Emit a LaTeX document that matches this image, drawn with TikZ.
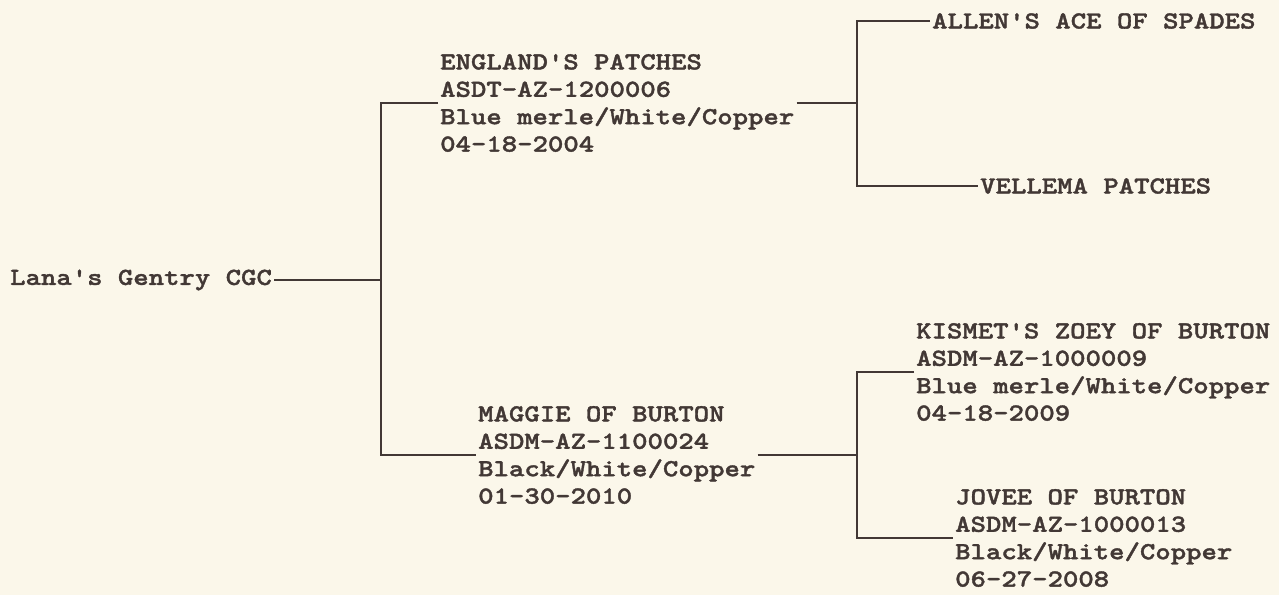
\documentclass[tikz,border=0pt]{standalone}
\usepackage{fontspec}
\newfontfamily\pedfont{lmmonolt10-bold.otf}[FakeStretch=1.197,FakeBold=1.5]
\usepackage{tikz}
\definecolor{paper}{RGB}{251,247,234}
\definecolor{ink}{RGB}{66,56,53}
\tikzstyle{dog}=[anchor=west, text=ink, inner sep=2pt, align=left,
  font=\pedfont\fontsize{24.5}{27.4}\selectfont]
\tikzstyle{pedline}=[draw=ink, line width=1.6pt]

\begin{document}
\begin{tikzpicture}[x=1pt,y=-1pt]
  \fill[paper] (0,0) rectangle (1279,595);
  \useasboundingbox (0,0) rectangle (1279,595);
  % generation 1
  \node[dog] (lana) at (8,280) {Lana's Gentry CGC};
  % generation 2
  \node[dog] (england) at (438,103) {ENGLAND'S PATCHES\\ASDT-AZ-1200006\\Blue merle/White/Copper\\04-18-2004};
  \node[dog] (maggie) at (476,455) {MAGGIE OF BURTON\\ASDM-AZ-1100024\\Black/White/Copper\\01-30-2010};
  % generation 3
  \node[dog] (allen) at (930,21) {ALLEN'S ACE OF SPADES};
  \node[dog] (vellema) at (978,186) {VELLEMA PATCHES};
  \node[dog] (kismet) at (914,372) {KISMET'S ZOEY OF BURTON\\ASDM-AZ-1000009\\Blue merle/White/Copper\\04-18-2009};
  \node[dog] (jovee) at (953,538) {JOVEE OF BURTON\\ASDM-AZ-1000013\\Black/White/Copper\\06-27-2008};
  \coordinate (jlana) at (381,280);
  \coordinate (jeng) at (857,103);
  \coordinate (jmag) at (857,455);
  \draw[pedline] (lana.east) -- (jlana);
  \draw[pedline] (england.west) -| (jlana) |- (maggie.west);
  \draw[pedline] (england.east) -- (jeng);
  \draw[pedline] (allen.west) -| (jeng) |- (vellema.west);
  \draw[pedline] (maggie.east) -- (jmag);
  \draw[pedline] (kismet.west) -| (jmag) |- (jovee.west);
\end{tikzpicture}
\end{document}
